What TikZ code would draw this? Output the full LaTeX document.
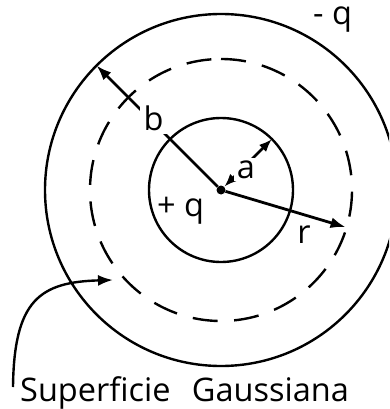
\documentclass[tikz,border=0pt]{standalone}
\usepackage{fontspec}
\setmainfont{Open Sans}
\usetikzlibrary{arrows.meta,calc}
\begin{document}
\begin{tikzpicture}[x=1pt,y=-1pt,
  every node/.style={font=\fontsize{32.5}{36}\selectfont, inner sep=0pt},
  ring/.style={line width=2.4pt},
  gauss/.style={line width=2.4pt, dash pattern=on 25pt off 16.5pt},
  vec/.style={line width=2.8pt, -{Latex[length=15pt,width=11pt]}},
  dvec/.style={line width=2.8pt, {Latex[length=13pt,width=10pt]}-{Latex[length=13pt,width=10pt]}},
  lbl/.style={fill=white, inner sep=3.5pt},
  dot/.style={circle, fill, inner sep=0pt, minimum size=9pt}]
\useasboundingbox (0,0) rectangle (389,409);
\node[dot] (O) at (221,190) {};
\begin{scope}
  \clip (0,0) rectangle (389,409);
  \draw[ring] (O.center) circle (176);
\end{scope}
\draw[ring] (O.center) circle (72);
\draw[gauss] ($(O.center)+(0,-131)$) arc[start angle=-90, end angle=270, radius=131];
\coordinate (B) at ($(O.center)+(-135:176)$);
\coordinate (A) at ($(O.center)+(-45:72)$);
\coordinate (R) at ($(O.center)+(16.6:130)$);
\draw[vec] (O) -- (B);
\draw[dvec] (O) -- (A);
\draw[vec] (O) -- (R);
\node[lbl, anchor=base] (lb) at (153.5,130) {b};
\node[lbl, inner sep=2.5pt, anchor=base] (la) at (246,178) {a};
\node[anchor=base] (lr) at (304,243) {r};
\node[anchor=base west] (lq1) at (157,216) {+ q};
\node[anchor=base west] (lq2) at (313,25) {- q};
\node[anchor=base west] (gs) at (20,401) {Superficie\hspace{0.4em} Gaussiana};
\coordinate (S) at (13,387);
\coordinate (T) at (113,280);
\draw[line width=2.4pt, -{Latex[length=15pt,width=11pt]}] (S) .. controls (14,300) and (40,282) .. (T);
\end{tikzpicture}
\end{document}
